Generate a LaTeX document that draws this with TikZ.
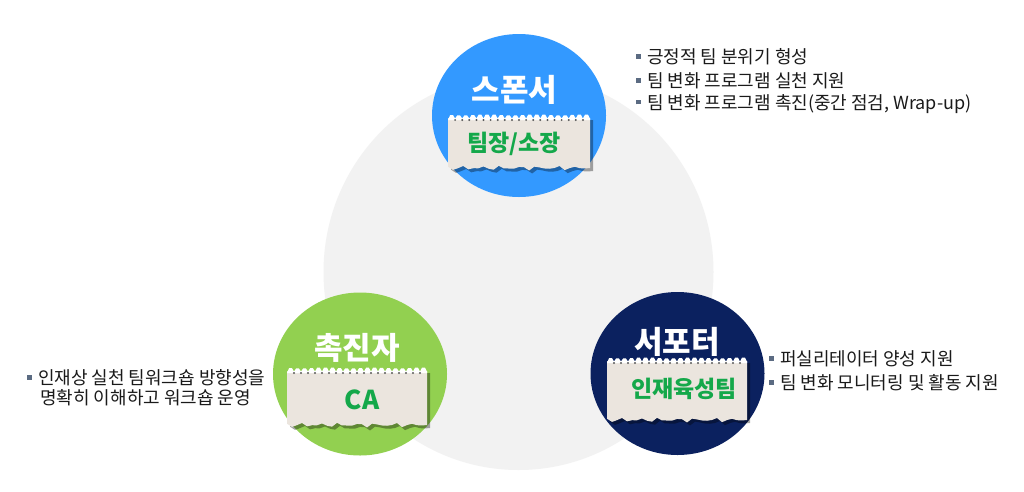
\documentclass[tikz,border=0pt]{standalone}
\usepackage{fontspec}
\setmainfont{Noto Sans CJK KR}
\usetikzlibrary{shapes.geometric}
\definecolor{bgGray}{HTML}{F2F2F2}
\definecolor{sBlue}{HTML}{3399FF}
\definecolor{cGreen}{HTML}{92D050}
\definecolor{sNavy}{HTML}{0B215F}
\definecolor{paperC}{HTML}{EBE5DE}
\definecolor{labGreen}{HTML}{14A84A}
\definecolor{txtC}{HTML}{1A1A1A}
\definecolor{bulletC}{HTML}{5B6B82}
\newcommand\bul{\textcolor{bulletC}{\rule[0.28em]{0.25em}{0.25em}}\hspace{0.35em}}
% torn paper: #1 left, #2 top, #3 right, #4 bottom
\newcommand\tornpaper[4]{%
  \pgfmathsetmacro\pw{#3-#1}%
  \fill[black,opacity=.35] ({#1+3},{#2+5}) -- ({#3+3},{#2+5}) -- ({#3+3},{#4+3})
    \foreach \i in {1,...,28}{ -- ({#3+3-\pw*\i/28},{#4+3+1.4*sin(\i*97)+1.1*cos(\i*211)})} -- cycle;
  \fill[paperC] (#1,{#2+3}) -- (#3,{#2+3}) -- (#3,#4)
    \foreach \i in {1,...,28}{ -- ({#3-\pw*\i/28},{#4+1.4*sin(\i*97)+1.1*cos(\i*211)})} -- cycle;
  \fill[white] (#1,{#2+5})
    \foreach \i in {0,...,19}{ -- ({#1+(\i+.3)*\pw/20},{#2+.5*sin(\i*53)}) -- ({#1+(\i+.7)*\pw/20},{#2+.5*sin(\i*53)}) -- ({#1+(\i+1)*\pw/20},{#2+3.5})}
    -- (#3,{#2+5}) -- cycle;
  \foreach \i in {1,...,19}{\fill[black!65] ({#1+\i*\pw/20},{#2+5}) circle (1.1);}
}
\tikzset{
  disc/.style={ellipse,inner sep=0pt,minimum width=174pt,minimum height=163pt},
  title/.style={font=\fontsize{31}{33}\selectfont\bfseries,text=white,inner sep=0pt},
  label/.style={font=\fontsize{23}{25}\selectfont\bfseries,text=labGreen,inner sep=0pt},
  item/.style={font=\fontsize{18}{20}\selectfont,text=txtC,inner sep=0pt,anchor=west}
}
\begin{document}
\begin{tikzpicture}[x=1pt,y=-1pt]
\useasboundingbox (0,0) rectangle (1024,491);
\fill[white] (0,0) rectangle (1024,491);
\node[ellipse,inner sep=0pt,minimum width=390pt,minimum height=396pt,fill=bgGray] (bg) at (518.5,272) {};
\node[disc,fill=sBlue] (c1) at (519,115.5) {};
\node[disc,fill=cGreen] (c2) at (360,374) {};
\node[disc,fill=sNavy] (c3) at (677.5,373.5) {};
\node[title] (t1) at (514.5,89.5) {스폰서};
\node[title] (t2) at (357,348) {촉진자};
\node[title] (t3) at (677,342) {서포터};
\tornpaper{448}{115}{590}{168}
\tornpaper{287}{368}{427}{425}
\tornpaper{607}{358}{747}{420}
\node[label] (l1) at (514,144) {팀장/소장};
\node[label,font=\fontsize{26}{28}\selectfont\bfseries] (l2) at (362,400) {CA};
\node[label] (l3) at (684,389) {인재육성팀};
\node[item] (a1) at (636,57) {\bul 긍정적 팀 분위기 형성};
\node[item] (a2) at (636,81) {\bul 팀 변화 프로그램 실천 지원};
\node[item] (a3) at (636,104) {\bul 팀 변화 프로그램 촉진(중간 점검, Wrap-up)};
\node[item] (b1) at (27,378) {\bul 인재상 실천 팀워크숍 방향성을};
\node[item] (b2) at (40,398) {명확히 이해하고 워크숍 운영};
\node[item] (d1) at (769,359) {\bul 퍼실리테이터 양성 지원};
\node[item] (d2) at (769,383) {\bul 팀 변화 모니터링 및 활동 지원};
\end{tikzpicture}
\end{document}
